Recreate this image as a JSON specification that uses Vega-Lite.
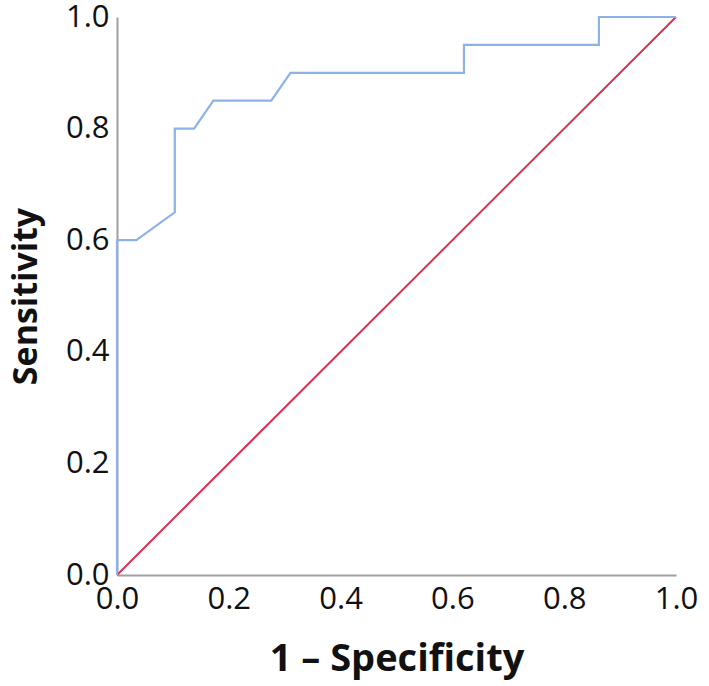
{
  "$schema": "https://vega.github.io/schema/vega-lite/v6.json",
  "autosize": {"type": "none"},
  "padding": {"left": 117, "top": 17, "right": 33, "bottom": 111},
  "width": 559,
  "height": 558,
  "background": "white",
  "config": {
    "view": {"stroke": null},
    "font": "Open Sans",
    "axis": {
      "grid": false,
      "ticks": false,
      "domainColor": "#a0a0a0",
      "domainWidth": 2,
      "labelFont": "Open Sans",
      "labelFontSize": 31,
      "labelColor": "#111111",
      "titleFont": "Open Sans",
      "titleFontWeight": "bold",
      "titleColor": "#111111"
    }
  },
  "datasets": {
    "roc": [
      {"order": 0, "fpr": 0, "tpr": 0},
      {"order": 1, "fpr": 0, "tpr": 0.6},
      {"order": 2, "fpr": 0.0345, "tpr": 0.6},
      {"order": 3, "fpr": 0.1034, "tpr": 0.65},
      {"order": 4, "fpr": 0.1034, "tpr": 0.8},
      {"order": 5, "fpr": 0.1379, "tpr": 0.8},
      {"order": 6, "fpr": 0.1724, "tpr": 0.85},
      {"order": 7, "fpr": 0.2759, "tpr": 0.85},
      {"order": 8, "fpr": 0.3103, "tpr": 0.9},
      {"order": 9, "fpr": 0.6207, "tpr": 0.9},
      {"order": 10, "fpr": 0.6207, "tpr": 0.95},
      {"order": 11, "fpr": 0.8621, "tpr": 0.95},
      {"order": 12, "fpr": 0.8621, "tpr": 1},
      {"order": 13, "fpr": 1, "tpr": 1}
    ],
    "ref": [
      {"order": 0, "fpr": 0, "tpr": 0},
      {"order": 1, "fpr": 1, "tpr": 1}
    ]
  },
  "layer": [
    {
      "data": {"name": "ref"},
      "mark": {"type": "line", "color": "#d83355", "strokeWidth": 2},
      "encoding": {
        "x": {"field": "fpr", "type": "quantitative", "scale": {"domain": [0, 1], "nice": false},
              "axis": {"title": "1 – Specificity", "titleFontSize": 38, "values": [0, 0.2, 0.4, 0.6, 0.8, 1], "format": ".1f", "labelPadding": 9, "titlePadding": 26, "labelFlush": false}},
        "y": {"field": "tpr", "type": "quantitative", "scale": {"domain": [0, 1], "nice": false},
              "axis": {"title": "Sensitivity", "titleFontSize": 34, "values": [0, 0.2, 0.4, 0.6, 0.8, 1], "format": ".1f", "labelPadding": 8, "titlePadding": 22, "labelFlush": false}},
        "order": {"field": "order"}
      }
    },
    {
      "data": {"name": "roc"},
      "mark": {"type": "line", "color": "#8db3e6", "strokeWidth": 2.2},
      "encoding": {
        "x": {"field": "fpr", "type": "quantitative"},
        "y": {"field": "tpr", "type": "quantitative"},
        "order": {"field": "order"}
      }
    }
  ]
}
